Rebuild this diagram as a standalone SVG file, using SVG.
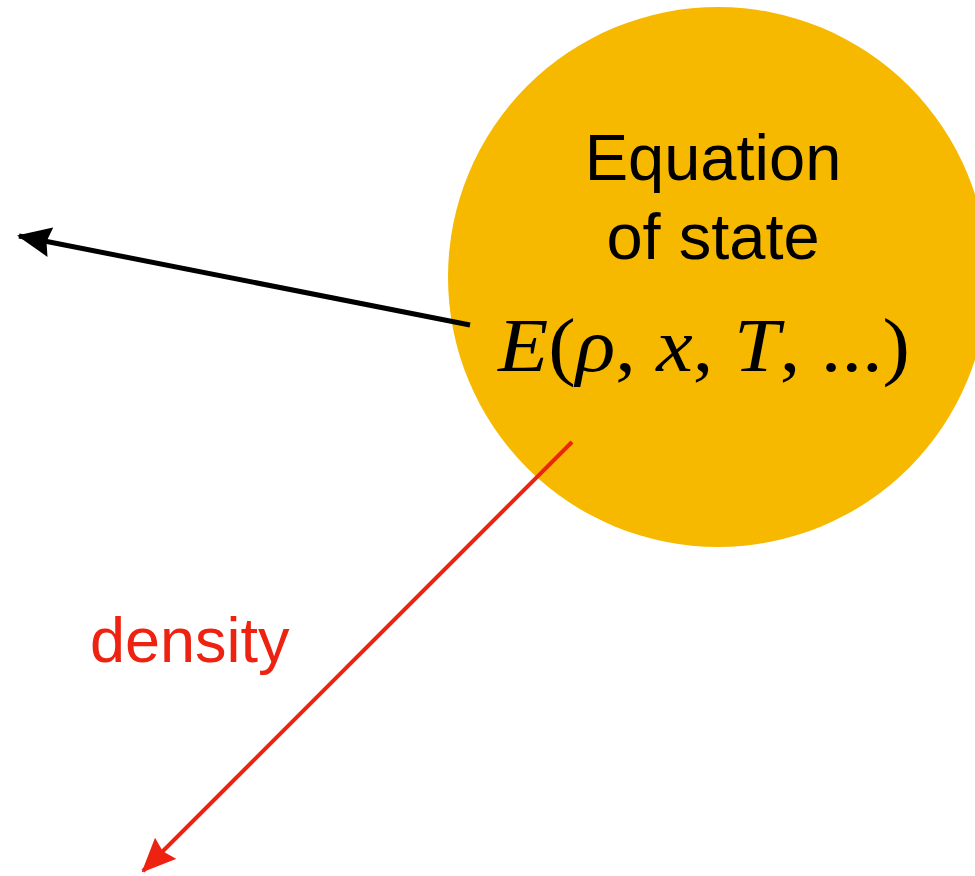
<svg xmlns="http://www.w3.org/2000/svg" width="975" height="876" viewBox="0 0 975 876">
<style>
.lbl{font-family:"Liberation Sans",Arial,sans-serif;font-size:65px;fill:#000;text-anchor:middle}
.math{font-family:"Liberation Serif","Times New Roman",serif;font-size:76px;fill:#000}
.it{font-style:italic}
</style>
<defs>
<marker id="ab" markerUnits="userSpaceOnUse" markerWidth="34" markerHeight="30" refX="32" refY="15" orient="auto" viewBox="0 0 34 30">
<path d="M0,0 L34,15 L0,30 L4,15 Z" fill="#000"/>
</marker>
<marker id="ar" markerUnits="userSpaceOnUse" markerWidth="34" markerHeight="30" refX="32" refY="15" orient="auto" viewBox="0 0 34 30">
<path d="M0,0 L34,15 L0,30 L4,15 Z" fill="#ee2211"/>
</marker>
</defs>
<rect width="975" height="876" fill="#fff"/>
<g id="eos">
<circle cx="718" cy="277" r="270" fill="#f6b900"/>
<text class="lbl" x="713" y="180">Equation</text>
<text class="lbl" x="713" y="259">of state</text>
<text class="math" x="498" y="371" textLength="412" lengthAdjust="spacingAndGlyphs"><tspan class="it">E</tspan>(<tspan class="it">ρ</tspan>, <tspan class="it">x</tspan>, <tspan class="it">T</tspan>, ...)</text>
</g>
<g id="connectors">
<line x1="470" y1="325" x2="19" y2="236" stroke="#000" stroke-width="5" marker-end="url(#ab)"/>
<line x1="572" y1="442" x2="143" y2="871" stroke="#ee2211" stroke-width="4" marker-end="url(#ar)"/>
</g>
<g id="density-label">
<text x="90" y="662" font-family="Liberation Sans,Arial,sans-serif" font-size="63" fill="#ee2211">density</text>
</g>
</svg>
